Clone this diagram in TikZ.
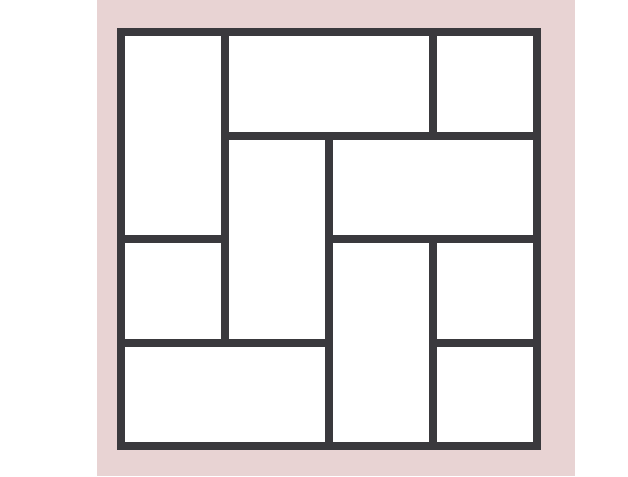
\documentclass[tikz,border=0pt]{standalone}
\usepackage{xcolor}
\usepackage{tikz}
\definecolor{pinkbg}{HTML}{E8D3D3}
\definecolor{tileline}{HTML}{3A393D}
\tikzset{
  tile/.style={draw=tileline, fill=white, line width=8pt, line join=miter}
}

\begin{document}
\begin{tikzpicture}[x=1pt, y=1pt]
  % canvas and pink backdrop
  \useasboundingbox (0,0) rectangle (628,-476);
  \fill[white] (0,0) rectangle (628,-476);
  \fill[pinkbg] (97,0) rectangle (575,-476);

  % tiles on a 4x4 grid (column, row from top)
  \begin{scope}[shift={(121,-32)}, x=104pt, y=-103.5pt]
    \foreach \xa/\ya/\xb/\yb in {0/0/1/2, 1/0/3/1, 3/0/4/1, 1/1/2/3, 2/1/4/2,
                                 0/2/1/3, 0/3/2/4, 2/2/3/4, 3/2/4/3, 3/3/4/4}
      \draw[tile] (\xa,\ya) rectangle (\xb,\yb);
  \end{scope}
\end{tikzpicture}
\end{document}
